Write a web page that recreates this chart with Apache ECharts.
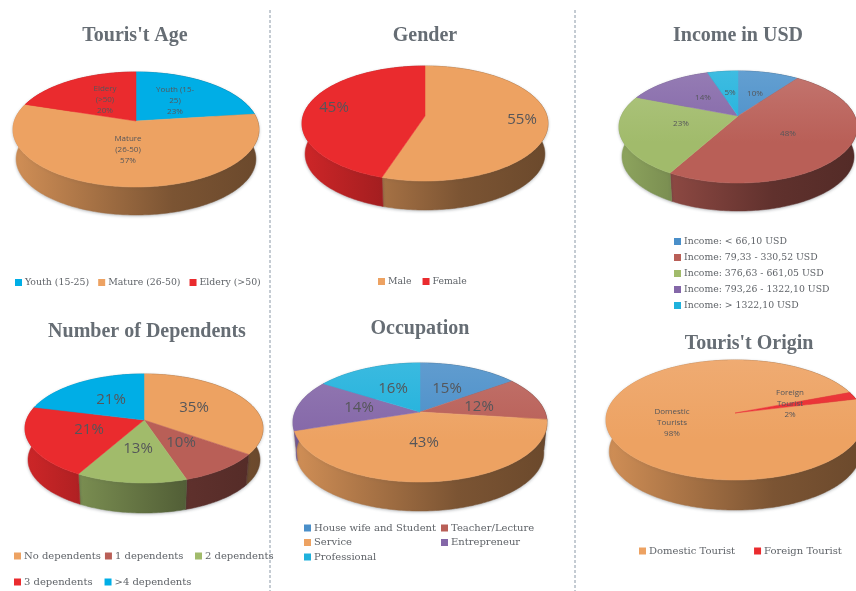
<!DOCTYPE html>
<html>
<head>
<meta charset="utf-8">
<title>Tourist profile</title>
<script src="https://cdn.jsdelivr.net/npm/echarts@6/dist/echarts.min.js"></script>
<style>
  html, body { margin: 0; padding: 0; background: #fff; }
  #main { width: 856px; height: 591px; }
</style>
</head>
<body>
<div id="main"></div>
<script>
  // data
  const ageNames = ['Youth (15-25)', 'Mature (26-50)', 'Eldery (>50)'];
  const ageValues = [23, 57, 20];
  const ageLabels = ['Youth (15-\n25)', 'Mature\n(26-50)', 'Eldery\n(>50)'];

  const genderNames = ['Male', 'Female'];
  const genderValues = [55, 45];

  const incomeNames = ['Income: < 66,10 USD', 'Income: 79,33 - 330,52 USD', 'Income: 376,63 - 661,05 USD', 'Income: 793,26 - 1322,10 USD', 'Income: > 1322,10 USD'];
  const incomeValues = [10, 48, 23, 14, 5];

  const dependentNames = ['No dependents', '1 dependents', '2 dependents', '3 dependents', '>4 dependents'];
  const dependentValues = [35, 10, 13, 21, 21];

  const occupationNames = ['House wife and Student', 'Teacher/Lecture', 'Service', 'Entrepreneur', 'Professional'];
  const occupationValues = [15, 12, 43, 14, 16];

  const originNames = ['Domestic Tourist', 'Foreign Tourist'];
  const originValues = [98, 2];
  const originLabels = ['Domestic\nTourists', 'Foreign\nTourist'];

  // colours
  const orange = '#eda262', red = '#ea2b2e', cyan = '#00aee6';
  const blue = '#4a8fc9', brick = '#b95f57', green = '#a1bb6b', purple = '#8467a8', sky = '#1fb1dc';

  // cx/tipY = pie centre, up/down = reach of the top face above and below it (perspective)
  const pies = [
    { title: "Touris't Age", titleX: 135, titleY: 26, names: ageNames, values: ageValues, labels: ageLabels,
      colors: [cyan, orange, red], cx: 136, tipY: 121, rx: 123, up: 49, down: 66, depth: 28, start: 0, sheen: 0,
      fontSize: 8, labelAt: [[39, -20], [-8, 29], [-31, -21]] },
    { title: 'Gender', titleX: 425, titleY: 26, names: genderNames, values: genderValues,
      colors: [orange, red], cx: 425, tipY: 116, rx: 123, up: 50, down: 65, depth: 29, start: 0, sheen: 0,
      fontSize: 15, labelAt: [[97, 4], [-91, -8]] },
    { title: 'Income in USD', titleX: 738, titleY: 26, names: incomeNames, values: incomeValues,
      colors: [blue, brick, green, purple, sky], cx: 738, tipY: 116, rx: 119, up: 45, down: 67, depth: 28, start: 0, sheen: 0.14,
      fontSize: 8, labelAt: [[17, -22], [50, 18], [-57, 8], [-35, -18], [-8, -23]] },
    { title: 'Number of Dependents', titleX: 147, titleY: 322, names: dependentNames, values: dependentValues,
      colors: [orange, brick, green, red, cyan], cx: 144, tipY: 420, rx: 119, up: 46, down: 63, depth: 30, start: 0, sheen: 0,
      fontSize: 15, labelAt: [[50, -12], [37, 23], [-6, 29], [-55, 10], [-33, -20]] },
    { title: 'Occupation', titleX: 420, titleY: 319, names: occupationNames, values: occupationValues,
      colors: [blue, brick, orange, purple, sky], cx: 420, tipY: 412, rx: 127, up: 49, down: 70, depth: 29, start: 0, sheen: 0.12,
      fontSize: 15, labelAt: [[27, -23], [59, -5], [4, 31], [-61, -4], [-27, -23]] },
    { title: "Touris't Origin", titleX: 749, titleY: 334, names: originNames, values: originValues, labels: originLabels,
      colors: [orange, red], cx: 735, tipY: 413, rx: 129, up: 53, down: 67, depth: 30, start: 76, sheen: 0.1,
      fontSize: 8, labelAt: [[-63, 10], [55, -9]] }
  ];

  const legends = [
    { data: ageNames, left: 15, top: 278, itemGap: 9, size: 9.4 },
    { data: genderNames, left: 378, top: 277, itemGap: 11, size: 9.3 },
    { data: incomeNames, left: 674, top: 237, orient: 'vertical', itemGap: 7, size: 9.3 },
    { data: dependentNames.slice(0, 2), left: 14, top: 551, itemGap: 4, size: 10 },
    { data: dependentNames.slice(2, 3), left: 195, top: 551, itemGap: 4, size: 10 },
    { data: dependentNames.slice(3), left: 14, top: 577, itemGap: 12, size: 10 },
    { data: [occupationNames[0], occupationNames[2], occupationNames[4]], left: 304, top: 523, orient: 'vertical', itemGap: 4.5, size: 10 },
    { data: [occupationNames[1], occupationNames[3]], left: 441, top: 523, orient: 'vertical', itemGap: 4.5, size: 10 },
    { data: originNames, left: 639, top: 546, itemGap: 19, size: 10 }
  ];

  // the bottom rim sits a little further from the eye than the top one
  const rimScale = 0.975;

  // point of the top face edge, deg clockwise from 12 o'clock
  function edgePoint(pie, deg) {
    const rad = deg * Math.PI / 180;
    const p = (pie.down - pie.up) / (pie.down + pie.up);
    const x = Math.sin(rad), v = -Math.cos(rad), w = 1 - p * v;
    return [pie.cx + pie.rx * Math.sqrt(1 - p * p) * x / w, pie.tipY + pie.up * (1 + p) * v / w];
  }

  function shade(hex, k) {
    const n = parseInt(hex.slice(1), 16);
    const c = [n >> 16, (n >> 8) & 255, n & 255].map(function (ch) {
      return Math.round(k <= 1 ? ch * k : ch + (255 - ch) * (k - 1));
    });
    return 'rgb(' + c.join(',') + ')';
  }

  function sliceRenderer(pie, i) {
    return function (params, api) {
      const value = api.value(0);
      const from = pie.start + api.value(1) * 3.6;
      const to = from + value * 3.6;
      const color = pie.colors[i];

      const edge = [], lower = [];
      const steps = Math.max(2, Math.ceil(to - from));
      const drop = pie.depth + pie.down * (1 - rimScale);
      for (let s = 0; s <= steps; s++) {
        const pt = edgePoint(pie, from + (to - from) * s / steps);
        edge.push(pt);
        lower.unshift([
          pie.cx + (pt[0] - pie.cx) * rimScale,
          pie.tipY + (pt[1] - pie.tipY) * rimScale + drop
        ]);
      }

      const wallFill = {
        type: 'linear', global: true, x: pie.cx - pie.rx, y: 0, x2: pie.cx + pie.rx, y2: 0,
        colorStops: [
          { offset: 0, color: shade(color, 0.88) },
          { offset: 0.65, color: shade(color, 0.52) },
          { offset: 1, color: shade(color, 0.45) }
        ]
      };
      const topFill = pie.sheen ? {
        type: 'linear', global: true, x: 0, y: pie.tipY - pie.up, x2: 0, y2: pie.tipY + pie.down * 0.4,
        colorStops: [
          { offset: 0, color: shade(color, 1 + pie.sheen) },
          { offset: 1, color: color }
        ]
      } : color;

      const prefix = pie.labels ? pie.labels[i] + '\n' : '';
      const at = pie.labelAt[i];
      return {
        type: 'group',
        children: [
          {
            type: 'polygon', z2: 1,
            shape: { points: edge.concat(lower) },
            style: { fill: wallFill, stroke: wallFill, lineWidth: 0.5, shadowColor: 'rgba(40,50,60,0.3)', shadowBlur: 3, shadowOffsetY: 1 }
          },
          {
            type: 'polygon', z2: 10,
            shape: { points: [[pie.cx, pie.tipY]].concat(edge) },
            style: { fill: topFill, stroke: topFill, lineWidth: 0.5 }
          },
          {
            type: 'text', z2: 20,
            x: pie.cx + at[0], y: pie.tipY + at[1],
            style: {
              text: prefix + value + '%',
              fill: '#55565a',
              font: pie.fontSize + 'px "Open Sans"',
              lineHeight: pie.fontSize * 1.35,
              align: 'center',
              verticalAlign: 'middle'
            }
          }
        ]
      };
    };
  }

  const series = [];
  pies.forEach(function (pie) {
    let before = 0;
    pie.values.forEach(function (value, i) {
      series.push({
        type: 'custom',
        name: pie.names[i],
        coordinateSystem: 'none',
        silent: true,
        itemStyle: { color: pie.colors[i] },
        renderItem: sliceRenderer(pie, i),
        data: [[value, before]]
      });
      before += value;
    });
  });

  const chart = echarts.init(document.getElementById('main'), null, { renderer: 'canvas' });
  chart.setOption({
    animation: false,
    backgroundColor: '#fff',
    title: pies.map(function (pie) {
      return {
        text: pie.title, left: pie.titleX, top: pie.titleY, textAlign: 'center', padding: 0,
        textStyle: { color: '#666d74', fontFamily: 'Liberation Serif', fontWeight: 'bold', fontSize: 20 }
      };
    }),
    legend: legends.map(function (l) {
      return {
        data: l.data, left: l.left, top: l.top, orient: l.orient || 'horizontal', itemGap: l.itemGap,
        icon: 'rect', itemWidth: 7, itemHeight: 7, padding: 0, selectedMode: false,
        textStyle: { color: '#5f6368', fontFamily: 'DejaVu Serif', fontSize: l.size, padding: [0, 0, 0, -2] }
      };
    }),
    graphic: [270, 575].map(function (x) {
      return {
        type: 'line', silent: true,
        shape: { x1: x, y1: 10, x2: x, y2: 591 },
        style: { stroke: '#8a98a6', lineWidth: 1, lineDash: [3, 2] }
      };
    }),
    series: series
  });
</script>
</body>
</html>
